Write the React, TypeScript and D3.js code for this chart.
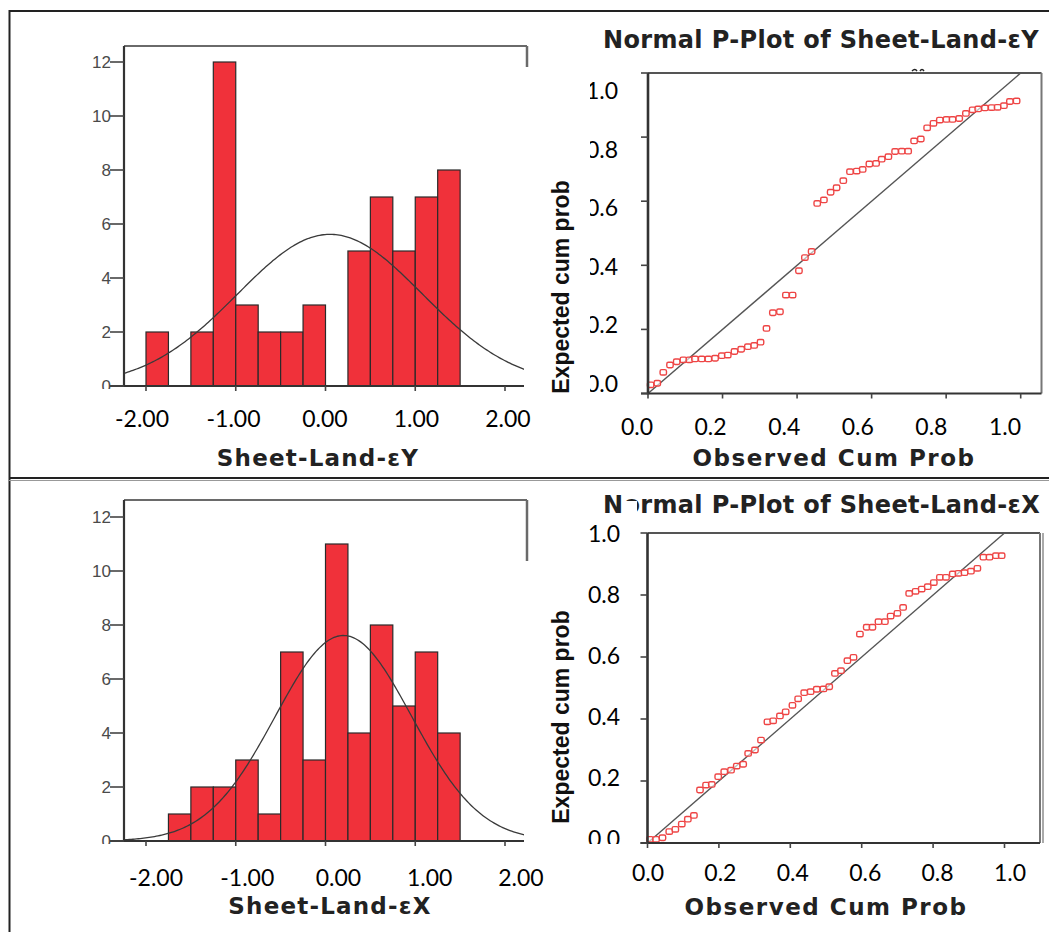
import React from "react";
import * as d3 from "d3";

// histogram bins (left edges), width 0.25
const binLefts = [-2, -1.75, -1.5, -1.25, -1, -0.75, -0.5, -0.25, 0, 0.25, 0.5, 0.75, 1, 1.25];
const binWidth = 0.25;
const countsEY = [2, 0, 2, 12, 3, 2, 2, 3, 0, 5, 7, 5, 7, 8];
const countsEX = [0, 1, 2, 2, 3, 1, 7, 3, 11, 4, 8, 5, 7, 4];
// fitted normal curve parameters
const fitEY = { mean: 0.05, sd: 1.03, n: 58 };
const fitEX = { mean: 0.2, sd: 0.76, n: 58 };

const histXTicks = [-2, -1, 0, 1, 2];
const histYTicks = [0, 2, 4, 6, 8, 10, 12];
const probTicks = [0, 0.2, 0.4, 0.6, 0.8, 1.0];

// P-P plot points
const observedEY = [0.007, 0.025, 0.041, 0.059, 0.077, 0.095, 0.111, 0.126, 0.144, 0.162, 0.18, 0.198, 0.214, 0.232, 0.25, 0.268, 0.285, 0.302, 0.318, 0.335, 0.354, 0.37, 0.388, 0.405, 0.421, 0.439, 0.454, 0.472, 0.49, 0.506, 0.524, 0.542, 0.56, 0.576, 0.594, 0.612, 0.627, 0.645, 0.663, 0.681, 0.698, 0.714, 0.732, 0.749, 0.766, 0.783, 0.801, 0.817, 0.835, 0.853, 0.871, 0.886, 0.904, 0.922, 0.938, 0.955, 0.971, 0.989];
const expectedEY = [0.027, 0.032, 0.066, 0.089, 0.099, 0.105, 0.105, 0.108, 0.108, 0.108, 0.11, 0.118, 0.12, 0.131, 0.138, 0.146, 0.15, 0.16, 0.203, 0.252, 0.255, 0.307, 0.307, 0.383, 0.424, 0.443, 0.593, 0.604, 0.628, 0.642, 0.664, 0.692, 0.694, 0.699, 0.716, 0.718, 0.731, 0.739, 0.755, 0.756, 0.756, 0.788, 0.794, 0.829, 0.843, 0.853, 0.855, 0.855, 0.858, 0.874, 0.885, 0.888, 0.891, 0.892, 0.893, 0.898, 0.911, 0.913];
const observedEX = [0.007, 0.024, 0.042, 0.061, 0.078, 0.096, 0.113, 0.13, 0.147, 0.164, 0.18, 0.198, 0.215, 0.234, 0.25, 0.268, 0.282, 0.301, 0.318, 0.336, 0.352, 0.371, 0.387, 0.406, 0.422, 0.439, 0.457, 0.474, 0.493, 0.509, 0.525, 0.542, 0.56, 0.577, 0.595, 0.614, 0.63, 0.647, 0.665, 0.681, 0.7, 0.716, 0.733, 0.751, 0.768, 0.785, 0.802, 0.819, 0.836, 0.855, 0.871, 0.888, 0.906, 0.924, 0.941, 0.958, 0.976, 0.992];
const expectedEX = [0.012, 0.012, 0.017, 0.037, 0.044, 0.061, 0.077, 0.089, 0.171, 0.187, 0.189, 0.214, 0.23, 0.235, 0.248, 0.254, 0.289, 0.3, 0.332, 0.391, 0.394, 0.41, 0.423, 0.444, 0.465, 0.485, 0.488, 0.496, 0.497, 0.504, 0.547, 0.556, 0.588, 0.599, 0.674, 0.696, 0.696, 0.714, 0.714, 0.732, 0.741, 0.76, 0.805, 0.812, 0.819, 0.827, 0.84, 0.857, 0.857, 0.868, 0.87, 0.872, 0.877, 0.886, 0.922, 0.922, 0.927, 0.927];

const TICK_FONT = "Lato, 'Open Sans', sans-serif";
const BOLD_FONT = "'DejaVu Sans', Verdana, sans-serif";
const ARIAL = "'Liberation Sans', Arial, sans-serif";

function Histogram({ id, counts, fit, top, base, labX0, labX1, labY, titleX, titleY, maskTop, title }) {
  const left = 124;
  const right = 527;
  const x = d3.scaleLinear().domain([-2, 2]).range([146, 505]);
  const y = d3.scaleLinear().domain([0, 12]).range([base, base - 324]);
  const xLab = d3.scaleLinear().domain([-2, 2]).range([labX0, labX1]);
  const pdf = (v) =>
    (fit.n * binWidth) / (fit.sd * Math.sqrt(2 * Math.PI)) *
    Math.exp(-((v - fit.mean) ** 2) / (2 * fit.sd * fit.sd));
  const xs = d3.range(x.invert(left), x.invert(right) + 0.001, 0.02);
  const curve = d3.line<number>().x((v) => x(v)).y((v) => y(pdf(v)))(xs);

  return (
    <g>
      <defs>
        <clipPath id={`ylab-${id}`}>
          <rect x={60} y={top - 20} width={70} height={base - top + 23} />
        </clipPath>
      </defs>
      {/* frame */}
      <line x1={left} x2={right} y1={top} y2={top} stroke="#6a6a6a" strokeWidth={2} />
      <line x1={right} x2={right} y1={top} y2={maskTop + 5} stroke="#6a6a6a" strokeWidth={2.5} />
      {counts.map((c, i) =>
        c > 0 ? (
          <rect
            key={i}
            x={x(binLefts[i])}
            y={y(c)}
            width={x(binLefts[i] + binWidth) - x(binLefts[i])}
            height={base - y(c)}
            fill="#f0313a"
            stroke="#2a2a2a"
            strokeWidth={1.2}
          />
        ) : null
      )}
      <path d={curve} fill="none" stroke="#3a3a3a" strokeWidth={1.3} />
      <line x1={left} x2={left} y1={top} y2={base} stroke="#333" strokeWidth={2.2} />
      <line x1={110} x2={524} y1={base} y2={base} stroke="#333" strokeWidth={2} />
      {histYTicks.map((t) => (
        <line key={t} x1={110} x2={left} y1={y(t)} y2={y(t)} stroke="#444" strokeWidth={1.6} />
      ))}
      {histXTicks.map((t) => (
        <line key={t} x1={x(t)} x2={x(t)} y1={base} y2={base + 5} stroke="#444" strokeWidth={1.6} />
      ))}
      {/* pasted picture on the right covers the frame */}
      <rect x={524} y={maskTop} width={22} height={base - maskTop + 20} fill="#fff" />
      <g clipPath={`url(#ylab-${id})`}>
        {histYTicks.map((t) => (
          <text
            key={t}
            x={111}
            y={y(t)}
            dominantBaseline="central"
            textAnchor="end"
            fontFamily={ARIAL}
            fontSize={17}
            fill="#4a4a4a"
          >
            {t}
          </text>
        ))}
      </g>
      {histXTicks.map((t) => (
        <text
          key={t}
          x={xLab(t)}
          y={labY}
          dominantBaseline="central"
          textAnchor="middle"
          fontFamily={TICK_FONT}
          fontSize={23}
          fill="#000"
        >
          {t.toFixed(2)}
        </text>
      ))}
      <text
        x={titleX}
        y={titleY}
        dominantBaseline="central"
        textAnchor="middle"
        fontFamily={BOLD_FONT}
        fontWeight="bold"
        fontSize={23}
        letterSpacing={1.2}
        fill="#222"
      >
        {title}
      </text>
    </g>
  );
}

function PPlot({ id, obs, exp, x0, x1, y0, y1, frameRight, labX0, labX1, labY, labY0, labY1, labRight, clipLeft, clipBottom, title, titleY, xTitleX, xTitleY, yTitleY, children }) {
  const x = d3.scaleLinear().domain([0, 1]).range([x0, x1]);
  const y = d3.scaleLinear().domain([0, 1]).range([y0, y1]);
  const xLab = d3.scaleLinear().domain([0, 1]).range([labX0, labX1]);
  const yLab = d3.scaleLinear().domain([0, 1]).range([labY0, labY1]);
  const pts = obs.map((o, i) => [o, exp[i]]);
  return (
    <g>
      <defs>
        <clipPath id={`plab-${id}`}>
          <rect x={clipLeft} y={y1 - 30} width={100} height={clipBottom - y1 + 30} />
        </clipPath>
      </defs>
      <line x1={x0} x2={frameRight} y1={y1} y2={y1} stroke="#555" strokeWidth={2} />
      <line x1={frameRight} x2={frameRight} y1={y1} y2={y0} stroke="#777" strokeWidth={2} />
      <line x1={x(0)} y1={y(0)} x2={x(1)} y2={y(1)} stroke="#555" strokeWidth={1.4} />
      {pts.map(([o, e], i) => (
        <rect
          key={i}
          x={x(o) - 3.2}
          y={y(e) - 2.7}
          width={6.4}
          height={5.4}
          rx={1.6}
          fill="#fff"
          fillOpacity={0.6}
          stroke="#ee4545"
          strokeWidth={1.4}
        />
      ))}
      <line x1={x0} x2={x0} y1={y1} y2={y0 + 1} stroke="#333" strokeWidth={2.6} />
      <line x1={x0 - 7} x2={frameRight} y1={y0} y2={y0} stroke="#333" strokeWidth={2.2} />
      {probTicks.map((t) => (
        <line key={`y${t}`} x1={x0 - 7} x2={x0} y1={y(t)} y2={y(t)} stroke="#444" strokeWidth={1.6} />
      ))}
      {probTicks.map((t) => (
        <line key={`x${t}`} x1={x(t)} x2={x(t)} y1={y0} y2={y0 + 5} stroke="#444" strokeWidth={1.6} />
      ))}
      {children}
      <text x={603} y={titleY} dominantBaseline="central" fontFamily={BOLD_FONT} fontWeight="bold" fontSize={24} letterSpacing={0.35} fill="#222">
        {title}
      </text>
      <g clipPath={`url(#plab-${id})`}>
        {probTicks.map((t) => (
          <text
            key={t}
            x={labRight}
            y={yLab(t)}
            dominantBaseline="central"
            textAnchor="end"
            fontFamily={TICK_FONT}
            fontSize={23}
            fill="#000"
          >
            {t.toFixed(1)}
          </text>
        ))}
      </g>
      {probTicks.map((t) => (
        <text
          key={t}
          x={xLab(t)}
          y={labY}
          dominantBaseline="central"
          textAnchor="middle"
          fontFamily={TICK_FONT}
          fontSize={23}
          fill="#000"
        >
          {t.toFixed(1)}
        </text>
      ))}
      <text
        transform={`translate(561,${yTitleY}) rotate(-90)`}
        dominantBaseline="central"
        textAnchor="middle"
        fontFamily={ARIAL}
        fontWeight="bold"
        fontSize={23}
        fill="#111"
      >
        Expected cum prob
      </text>
      <text
        x={xTitleX}
        y={xTitleY}
        dominantBaseline="central"
        textAnchor="middle"
        fontFamily={BOLD_FONT}
        fontWeight="bold"
        fontSize={23}
        letterSpacing={1.5}
        fill="#222"
      >
        Observed Cum Prob
      </text>
    </g>
  );
}

export default function App() {
  return (
    <svg
      width={1049}
      height={932}
      style={{ position: "absolute", left: 0, top: 0, background: "#fff" }}
    >
      <rect width={1049} height={932} fill="#fff" />

      <Histogram
        id="ey"
        counts={countsEY}
        fit={fitEY}
        top={46}
        base={386}
        labX0={142}
        labX1={508}
        labY={418}
        titleX={318}
        titleY={458}
        maskTop={67}
        title="Sheet-Land-εY"
      />
      <Histogram
        id="ex"
        counts={countsEX}
        fit={fitEX}
        top={500}
        base={841}
        labX0={156}
        labX1={521}
        labY={877}
        titleX={330}
        titleY={906}
        maskTop={561}
        title="Sheet-Land-εX"
      />

      <PPlot
        id="ey"
        obs={observedEY}
        exp={expectedEY}
        x0={648}
        x1={1020.7}
        y0={393.5}
        y1={73}
        frameRight={1041.5}
        labX0={637}
        labX1={1005}
        labY={426}
        labY0={383}
        labY1={90}
        labRight={618}
        clipLeft={590}
        clipBottom={400}
        title="Normal P-Plot of Sheet-Land-εY"
        titleY={40}
        xTitleX={834}
        xTitleY={458}
        yTitleY={287}
      >
        <path d="M912,71 q3,-3 5,0 M920,71 q2,-3 4,0" fill="none" stroke="#222" strokeWidth={1.5} />
      </PPlot>
      <PPlot
        id="ex"
        obs={observedEX}
        exp={expectedEX}
        x0={647.5}
        x1={1004.5}
        y0={843}
        y1={533}
        frameRight={1040}
        labX0={648}
        labX1={1010}
        labY={872}
        labY0={838}
        labY1={533}
        labRight={620}
        clipLeft={580}
        clipBottom={844}
        title="Normal P-Plot of Sheet-Land-εX"
        titleY={505}
        xTitleX={826}
        xTitleY={907}
        yTitleY={717}
      />
      {/* text box covering part of the lower title */}
      <rect x={623} y={501} width={14} height={14} fill="#fff" />
      <line x1={1043} x2={1043} y1={533} y2={843} stroke="#aaa" strokeWidth={2} />

      {/* outer frame lines */}
      <line x1={9} x2={1049} y1={11} y2={11} stroke="#222" strokeWidth={2} />
      <line x1={9.5} x2={9.5} y1={10} y2={932} stroke="#222" strokeWidth={2} />
      <line x1={9} x2={1049} y1={478} y2={478} stroke="#222" strokeWidth={2} />
      <line x1={9} x2={1049} y1={480.5} y2={480.5} stroke="#999" strokeWidth={1.2} />
    </svg>
  );
}
